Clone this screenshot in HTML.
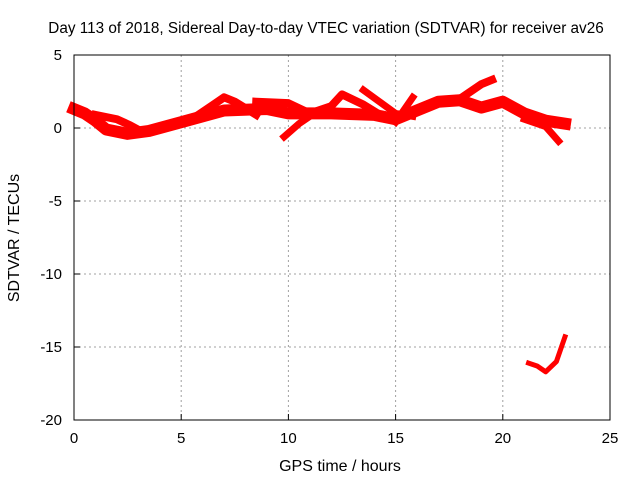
<!DOCTYPE html>
<html><head><meta charset="utf-8"><style>
body{margin:0;background:#fff}
svg text{font-family:"Liberation Sans",sans-serif;font-size:15px;fill:#000}
</style></head><body>
<svg id="c" width="640" height="480" xmlns="http://www.w3.org/2000/svg">
<rect width="640" height="480" fill="#fff"/>
<text x="326" y="33" text-anchor="middle" style="font-size:15.3px">Day 113 of 2018, Sidereal Day-to-day VTEC variation (SDTVAR) for receiver av26</text>
<g id="grid"></g><g id="series"></g>
<rect x="74" y="55" width="536" height="365" fill="none" stroke="#000" stroke-width="1"/>
<g id="axes"></g>
<text x="340" y="471" text-anchor="middle" style="font-size:16px">GPS time / hours</text>
<text transform="translate(19,238) rotate(-90)" text-anchor="middle" style="font-size:16px">SDTVAR / TECUs</text>
</svg>
<script>
const xTicks=[0,5,10,15,20,25];
const yTicks=[5,0,-5,-10,-15,-20];
const sMainH=[0,0.5,1,1.5,2.5,3.5,5,6,7,9,10,12,14,15,16,17,18,19,20,21,22,22.9];
const sMainV=[1.3,1.0,0.5,-0.1,-0.4,-0.2,0.4,0.8,1.2,1.3,1.0,1.0,0.9,0.6,1.2,1.8,1.9,1.4,1.8,1.0,0.5,0.3];
const sLoopH=[1,2,2.6,3.1];const sLoopV=[0.9,0.6,0.2,-0.2];
const sArcH=[5.5,6.5,7,7.5,8.5];const sArcV=[0.6,1.6,2.1,1.8,0.9];
const sMidH=[8.5,10,11,12,12.5,13.5,14.5];const sMidV=[1.8,1.7,1.0,1.5,2.3,1.6,0.7];
const sDipH=[9.8,10.5,11];const sDipV=[-0.6,0.3,0.8];
const sCrossH=[13.5,15,15.8];const sCrossV=[2.6,1.0,0.8];
const sRiseH=[15,15.8];const sRiseV=[0.4,2.1];
const sLateH=[16,17,18,19,19.5];const sLateV=[1.2,1.8,2.0,3.0,3.3];
const sDropH=[21,22,22.6];const sDropV=[0.6,0.1,-0.9];
const sLowH=[21.2,21.6,22,22.5,22.9];const sLowV=[-16.1,-16.3,-16.7,-16.0,-14.3];
const X=h=>74+h*536/25, Y=v=>128-v*14.6;
const NS='http://www.w3.org/2000/svg';
const g=document.getElementById('grid'),ax=document.getElementById('axes'),sg=document.getElementById('series');
function mk(t,a,p){const e=document.createElementNS(NS,t);for(const k in a)e.setAttribute(k,a[k]);p.appendChild(e);return e;}
xTicks.forEach(t=>{
 if(t>0&&t<25){const l=mk('line',{x1:X(t),x2:X(t),y1:55,y2:420,stroke:'#a0a0a0','stroke-dasharray':'2,3'},g);
 
 }
 mk('line',{x1:X(t),x2:X(t),y1:420,y2:414,stroke:'#000'},ax);
 const tx=mk('text',{x:X(t),y:443,'text-anchor':'middle'},ax);tx.textContent=t;
 
 
});
yTicks.forEach(t=>{
 if(t<5&&t>-20){const l=mk('line',{x1:74,x2:610,y1:Y(t),y2:Y(t),stroke:'#a0a0a0','stroke-dasharray':'2,3'},g);
 
 }
 mk('line',{x1:74,x2:80,y1:Y(t),y2:Y(t),stroke:'#000'},ax);
 const tx=mk('text',{x:62,y:Y(t)+5,'text-anchor':'end'},ax);tx.textContent=t;
 
 
});
[[sMainH,sMainV,12],[sLoopH,sLoopV,8],[sArcH,sArcV,8],[sMidH,sMidV,8],[sDipH,sDipV,7],[sCrossH,sCrossV,7],[sRiseH,sRiseV,7],[sLateH,sLateV,8],[sDropH,sDropV,7],[sLowH,sLowV,5]].forEach(([H,V,w])=>{
 const p=mk('polyline',{points:H.map((h,i)=>X(h)+','+Y(V[i])).join(' '),fill:'none',stroke:'#ff0000','stroke-width':w,'stroke-linejoin':'round','stroke-linecap':'square'},sg);
 
 
});
</script>
</body></html>
